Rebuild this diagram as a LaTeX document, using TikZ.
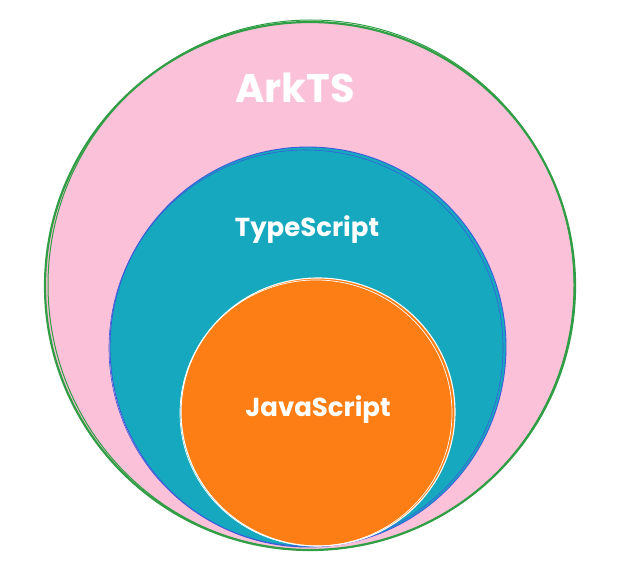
\documentclass[tikz,border=0pt]{standalone}
\usepackage{fontspec}
\setmainfont{Poppins}
\definecolor{pinkfill}{HTML}{FAC1D8}
\definecolor{tealfill}{HTML}{16A8BE}
\definecolor{orangefill}{HTML}{FD7E14}
\definecolor{greenline}{HTML}{2F9E44}
\definecolor{blueline}{HTML}{3B5BDB}
\tikzset{
  lbl/.style={text=white, inner sep=0pt, font=\bfseries},
}
\begin{document}
\begin{tikzpicture}[x=1pt,y=-1pt]
\useasboundingbox (0,0) rectangle (617,564);
% outer
\fill[pinkfill] (310,286) ellipse [x radius=265, y radius=264];
\draw[greenline, line width=2.2pt] (310,286) ellipse [x radius=265, y radius=264];
\draw[greenline, line width=1pt] (311,285) ellipse [x radius=263, y radius=265];
% middle
\fill[tealfill] (308,347) ellipse [x radius=198, y radius=200];
\draw[blueline, line width=0.9pt] (308,347) ellipse [x radius=198, y radius=200];
\draw[blueline, line width=0.6pt] (306,348) ellipse [x radius=197, y radius=198];
% inner
\fill[orangefill] (318,412) ellipse [x radius=137, y radius=134];
\draw[white, line width=1.1pt] (318,412) ellipse [x radius=137, y radius=134];
\draw[white, line width=0.7pt] (316,413) ellipse [x radius=136, y radius=133];
% labels
\node[lbl, font=\fontsize{40}{46}\selectfont\bfseries] (ark) at (295,88) {ArkTS};
\node[lbl, font=\fontsize{26}{31}\selectfont\bfseries] (ts) at (307,230) {TypeScript};
\node[lbl, font=\fontsize{26}{31}\selectfont\bfseries] (js) at (318,410) {JavaScript};
\end{tikzpicture}
\end{document}
